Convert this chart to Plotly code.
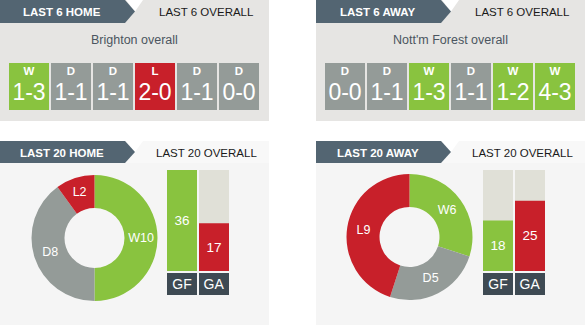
import plotly.graph_objects as go

# ---------------- data ----------------
teams = ["Brighton", "Nott'm Forest"]
tab_home_labels = ["LAST 6 HOME", "LAST 6 AWAY"]
tab_overall_6 = "LAST 6 OVERALL"
tab_home_20 = ["LAST 20 HOME", "LAST 20 AWAY"]
tab_overall_20 = "LAST 20 OVERALL"

brighton_results = ["W", "D", "D", "L", "D", "D"]
brighton_scores = ["1-3", "1-1", "1-1", "2-0", "1-1", "0-0"]
forest_results = ["D", "D", "W", "D", "W", "W"]
forest_scores = ["0-0", "1-1", "1-3", "1-1", "1-2", "4-3"]

wdl_labels = ["W", "D", "L"]
brighton_wdl = [10, 8, 2]
forest_wdl = [6, 5, 9]

goal_labels = ["GF", "GA"]
brighton_goals = [36, 17]
forest_goals = [18, 25]

# ---------------- styles ----------------
W, H = 585, 325
GREEN = "#89c33f"
RED = "#c8202a"
GREY = "#949b98"
DARK = "#536572"
LABEL_DARK = "#3e4a53"
BAR_BG = "#e0e0d7"
TOP_BG = "#e6e5e3"
BOT_BG = "#f5f5f5"
BOT_TAB = "#f8f8f8"
FONT = "Liberation Sans, Arial, sans-serif"
res_color = {"W": GREEN, "D": GREY, "L": RED}


def xd(a, b):
    return [a / W, b / W]


def yd(top, bottom):
    return [1 - bottom / H, 1 - top / H]


def P(x, y):
    return f"{x / W:.5f},{1 - y / H:.5f}"


def poly(pts):
    return "M " + " L ".join(P(x, y) for x, y in pts) + " Z"


fig = go.Figure()
shapes = []
annotations = []

panel_x = [0, 316]
for i, px in enumerate(panel_x):
    # top panels
    shapes.append(dict(type="path", path=poly([(px, 0), (px + 269, 0), (px + 269, 121), (px, 121)]),
                       xref="paper", yref="paper", fillcolor=TOP_BG, line_width=0, layer="below"))
    shapes.append(dict(type="path", path=poly([(px + 126, 0), (px + 143, 0), (px + 135, 11.5)]),
                       xref="paper", yref="paper", fillcolor="white", line_width=0, layer="below"))
    shapes.append(dict(type="path", path=poly([(px, 0), (px + 125, 0), (px + 135, 11.5), (px + 125, 23), (px, 23)]),
                       xref="paper", yref="paper", fillcolor=DARK, line_width=0, layer="below"))
    # bottom panels
    shapes.append(dict(type="path", path=poly([(px, 141), (px + 269, 141), (px + 269, 163), (px, 163)]),
                       xref="paper", yref="paper", fillcolor=BOT_TAB, line_width=0, layer="below"))
    shapes.append(dict(type="path", path=poly([(px, 163), (px + 269, 163), (px + 269, 325), (px, 325)]),
                       xref="paper", yref="paper", fillcolor=BOT_BG, line_width=0, layer="below"))
    shapes.append(dict(type="path", path=poly([(px + 126, 141), (px + 143, 141), (px + 135, 152)]),
                       xref="paper", yref="paper", fillcolor="white", line_width=0, layer="below"))
    shapes.append(dict(type="path", path=poly([(px, 141), (px + 125, 141), (px + 135, 152), (px + 125, 163), (px, 163)]),
                       xref="paper", yref="paper", fillcolor=DARK, line_width=0, layer="below"))

    def ann(text, x, y, size, color, bold=False):
        annotations.append(dict(text=f"<b>{text}</b>" if bold else text, x=x / W, y=1 - y / H,
                                xref="paper", yref="paper", showarrow=False, xanchor="center",
                                yanchor="middle", font=dict(size=size, color=color, family=FONT)))

    ann(tab_home_labels[i], px + 62, 12.5, 11.5, "white", True)
    ann(tab_overall_6, px + 206, 12.5, 11.5, "#1a1a1a")
    ann(f"{teams[i]} overall", px + 134, 40, 12.5, "#4b5560")
    ann(tab_home_20[i], px + 62, 152.5, 11.5, "white", True)
    ann(tab_overall_20, px + 206, 152.5, 11.5, "#1a1a1a")

layout_axes = {}


def add_axes(n, xdom, ydom, xrange, yrange):
    common = dict(showgrid=False, zeroline=False, showticklabels=False, fixedrange=True,
                  showline=False, ticks="")
    layout_axes[f"xaxis{n}"] = dict(domain=xdom, range=xrange, anchor=f"y{n}", **common)
    layout_axes[f"yaxis{n}"] = dict(domain=ydom, range=yrange, anchor=f"x{n}", **common)


# ---------------- form boxes ----------------
forms = [(brighton_results, brighton_scores, 8), (forest_results, forest_scores, 324)]
for k, (res, sc, x0) in enumerate(forms):
    n = k + 1
    add_axes(n, xd(x0, x0 + 252), yd(63, 110), [-0.5, 5.5], [0, 1])
    idx = list(range(len(res)))
    fig.add_trace(go.Bar(x=idx, y=[1] * len(res), width=40 / 42, marker=dict(color=[res_color[r] for r in res], line_width=0),
                         xaxis=f"x{n}", yaxis=f"y{n}", hoverinfo="skip", showlegend=False))
    fig.add_trace(go.Scatter(x=idx, y=[0.81] * len(res), mode="text", text=[f"<b>{r}</b>" for r in res],
                             textfont=dict(size=11.5, color="white", family=FONT), cliponaxis=False,
                             xaxis=f"x{n}", yaxis=f"y{n}", hoverinfo="skip", showlegend=False))
    fig.add_trace(go.Scatter(x=idx, y=[0.34] * len(res), mode="text", text=sc,
                             textfont=dict(size=23, color="white", family=FONT), cliponaxis=False,
                             xaxis=f"x{n}", yaxis=f"y{n}", hoverinfo="skip", showlegend=False))

# ---------------- donuts ----------------
donuts = [(brighton_wdl, 94.5, 238), (forest_wdl, 409.5, 237)]
R = 63
for wdl, cx, cy in donuts:
    fig.add_trace(go.Pie(labels=wdl_labels, values=wdl, text=[f"{l}{v}" for l, v in zip(wdl_labels, wdl)],
                         textinfo="text", sort=False, direction="clockwise", rotation=0, hole=0.476,
                         marker=dict(colors=[res_color[l] for l in wdl_labels], line=dict(width=0)),
                         textposition="inside", insidetextorientation="horizontal",
                         textfont=dict(size=12.5, color="white", family=FONT),
                         domain=dict(x=xd(cx - R, cx + R), y=yd(cy - R, cy + R)),
                         hoverinfo="skip", showlegend=False))

# ---------------- goal bars ----------------
scale_max = max(brighton_goals + forest_goals)
goal_sets = [(brighton_goals, 166), (forest_goals, 482)]
for k, (goals, x0) in enumerate(goal_sets):
    nb = 3 + 2 * k
    nl = 4 + 2 * k
    add_axes(nb, xd(x0, x0 + 64), yd(170, 271), [-0.5, 1.5], [0, scale_max])
    add_axes(nl, xd(x0, x0 + 64), yd(273, 295), [-0.5, 1.5], [0, 1])
    idx = list(range(len(goals)))
    fig.add_trace(go.Bar(x=idx, y=[scale_max] * len(goals), width=30 / 32, marker=dict(color=BAR_BG, line_width=0),
                         xaxis=f"x{nb}", yaxis=f"y{nb}", hoverinfo="skip", showlegend=False))
    fig.add_trace(go.Bar(x=idx, y=goals, width=30 / 32, marker=dict(color=[GREEN, RED], line_width=0),
                         text=[str(g) for g in goals], textposition="inside", insidetextanchor="middle",
                         textangle=0, textfont=dict(size=13.5, color="white", family=FONT),
                         xaxis=f"x{nb}", yaxis=f"y{nb}", hoverinfo="skip", showlegend=False))
    fig.add_trace(go.Bar(x=idx, y=[1] * len(goals), width=30 / 32, marker=dict(color=LABEL_DARK, line_width=0),
                         text=goal_labels, textposition="inside", insidetextanchor="middle",
                         textangle=0, textfont=dict(size=14, color="white", family=FONT),
                         xaxis=f"x{nl}", yaxis=f"y{nl}", hoverinfo="skip", showlegend=False))

fig.update_layout(width=W, height=H, margin=dict(l=0, r=0, t=0, b=0), paper_bgcolor="white",
                  plot_bgcolor="rgba(0,0,0,0)", barmode="overlay", shapes=shapes, annotations=annotations,
                  showlegend=False, uniformtext=dict(minsize=8, mode="show"), **layout_axes)

fig.write_html("out.html", config={"displayModeBar": False})
